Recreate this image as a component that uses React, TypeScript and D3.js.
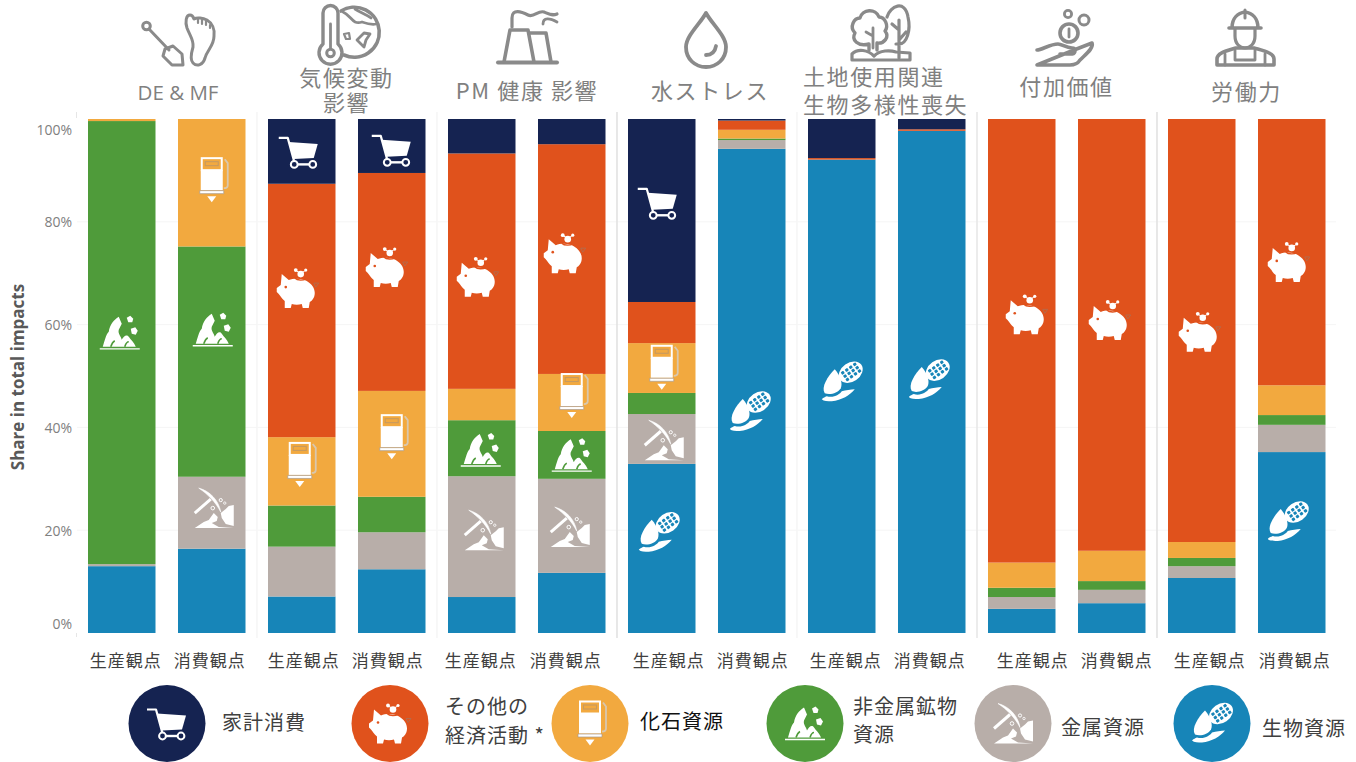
import React from "react";
import * as d3 from "d3";

// Stacked shares by perspective, bottom segment first.
const categories = [
  "DE-prod", "DE-cons", "GHG-prod", "GHG-cons", "PM-prod", "PM-cons", "Water-prod",
  "Water-cons", "Land-prod", "Land-cons", "VA-prod", "VA-cons", "Labor-prod", "Labor-cons",
];
const biomass = [13.0, 16.4, 7.1, 12.4, 7.0, 11.7, 32.9, 94.2, 92.1, 97.7, 4.7, 5.8, 10.7, 35.2];
const metals = [0.4, 14.0, 9.7, 7.2, 23.5, 18.3, 9.7, 1.7, 0, 0, 2.3, 2.6, 2.3, 5.3];
const minerals = [86.2, 44.8, 8.0, 6.9, 10.9, 9.3, 4.1, 0.3, 0, 0, 1.8, 1.7, 1.6, 1.9];
const fossil = [0.4, 24.8, 13.3, 20.6, 6.1, 11.1, 9.7, 1.7, 0, 0, 4.9, 5.9, 3.1, 5.8];
const otherEconomy = [0, 0, 49.3, 42.4, 45.8, 44.7, 8.0, 1.8, 0.3, 0.3, 86.3, 84.0, 82.3, 51.8];
const households = [0, 0, 12.6, 10.5, 6.7, 4.9, 35.6, 0.3, 7.6, 2.0, 0, 0, 0, 0];

const seriesKeys = ["biomass", "metals", "minerals", "fossil", "other", "households"];
const seriesValues: Record<string, number[]> = {
  biomass, metals, minerals, fossil, other: otherEconomy, households,
};
const seriesColors = ["#1785b8", "#b8aea9", "#4f9b3a", "#f2a93f", "#e0521c", "#152351"];

const tickValues = [0, 20, 40, 60, 80, 100];
const perspectiveLabels = ["生産観点", "消費観点"];

const WIDTH = 1356;
const HEIGHT = 762;
const GREY = "#808080";
const JP = "'Noto Sans CJK JP', 'Noto Sans', sans-serif";

const x = d3
  .scaleBand<string>()
  .domain(categories)
  .range([76.75, 1336.75])
  .paddingInner(0.25)
  .paddingOuter(0.125);
const y = d3.scaleLinear().domain([0, 100]).range([633, 119]);

const rows = categories.map((c, i) => {
  const row: Record<string, number | string> = { c };
  seriesKeys.forEach((k) => (row[k] = seriesValues[k][i]));
  return row;
});
const stacked = d3.stack<any>().keys(seriesKeys)(rows);

type Kind = "cart" | "pig" | "pump" | "rock" | "pick" | "corn";

// White pictograms; `bg` is the colour showing through their cut-outs.
function Glyph({ kind, bg }: { kind: Kind; bg: string }) {
  if (kind === "cart") {
    return (
      <g>
        <path d="M-20,-14 H-11 L-5,8 V12" fill="none" stroke="#fff" strokeWidth={2.2} strokeLinejoin="round" />
        <path d="M-10,-10 L19,-8 L15,6 L-5,7 Z" fill="#fff" />
        <path d="M-4,12.5 H14" stroke="#fff" strokeWidth={2.4} />
        <circle cx={-4.5} cy={12.5} r={3.4} fill={bg} stroke="#fff" strokeWidth={2} />
        <circle cx={14} cy={12.5} r={3.4} fill={bg} stroke="#fff" strokeWidth={2} />
      </g>
    );
  }
  if (kind === "pig") {
    return (
      <g>
        <path
          d="M-16,-14 L-9,-8 C-4,-10 4,-10 9,-7 C14,-4 17,0 17,5 C17,10 14,13 12,14 L11,20 H5 L4,16 C1,17 -3,17 -6,16 L-7,20 H-13 L-13,13 C-16,11 -17,8 -19,6 L-21,4 L-21,0 L-17,-3 Z"
          fill="#fff"
        />
        <circle cx={-12} cy={-1} r={1.3} fill={bg} />
        <path d="M-3,-10 C0,-7 6,-8 8,-9" fill="none" stroke={bg} strokeWidth={1.4} />
        <circle cx={3} cy={-14} r={3.3} fill="#fff" />
        <circle cx={-2} cy={-18} r={1.9} fill="#fff" />
        <circle cx={8} cy={-18} r={1.6} fill="#fff" />
        <path d="M1,-16 L-1,-17 M5,-16 L7,-17" stroke="#fff" strokeWidth={1} />
        <path d="M16,-5 L21,-5 L18,-1 Z" fill="none" stroke="#b66a4a" strokeWidth={1} />
      </g>
    );
  }
  if (kind === "pump") {
    return (
      <g>
        <rect x={-10} y={-22} width={20} height={12} fill="none" stroke="#fff" strokeWidth={2} />
        <rect x={-6.5} y={-18.5} width={13} height={4} fill="none" stroke="#c79a5f" strokeWidth={1.1} />
        <rect x={-11} y={-10} width={22} height={20} fill="#fff" />
        <path d="M-12,10.5 H12 V13.5 H-12 Z" fill="#fff" stroke="#a89a8c" strokeWidth={0.7} />
        <path d="M-4.5,16 H4.5 L0,22 Z" fill="#fff" />
        <path d="M13,-21 L16,-17 V5 Q16,8 12,8" fill="none" stroke="#d9c7ad" strokeWidth={1.8} />
      </g>
    );
  }
  if (kind === "rock") {
    return (
      <g>
        <path
          d="M-17,14 C-15,8 -14,2 -11,-1 C-10,-8 -6,-13 -1,-16 L2,-9 L-1,-3 C-2,1 1,3 2,7 C4,3 7,1 9,4 C11,7 14,9 16,14 Z"
          fill="#fff"
        />
        <path d="M-20,16 H20" stroke="#fff" strokeWidth={1.3} />
        <path d="M-9,14 C-8,11 -7,9 -5,8 M5,14 C6,11 7,9 9,9" fill="none" stroke={bg} strokeWidth={1.6} />
        <path d="M7,-15 L10.5,-17 L13.5,-14 L12.5,-10.5 L8.5,-10.5 Z" fill="#fff" />
        <path d="M11,-4 L15.5,-5.5 L18,-2 L16,2 L12,1 Z" fill="#fff" />
      </g>
    );
  }
  if (kind === "pick") {
    return (
      <g>
        <path d="M-15,-20 C-4,-17 5,-8 7,4 C2,-6 -6,-14 -15,-20 Z" fill="#fff" stroke="#fff" strokeWidth={0.6} />
        <path d="M-19,5 L-3,-9" stroke="#fff" strokeWidth={3} />
        <path d="M-19,20 L-10,14 L-5,12 L0,5 L4,9 L3,13 L-2,15 L5,19 L20,20 Z" fill="#fff" />
        <path d="M8,10 L7,5 L12,1 L15,-2 L20,-3 V18 L12,16 Z" fill="#fff" />
        <circle cx={-1} cy={0} r={1.8} fill="none" stroke="#fff" strokeWidth={1} />
        <circle cx={7} cy={-8} r={1.6} fill="none" stroke="#fff" strokeWidth={1} />
        <circle cx={11} cy={-5} r={1.2} fill="none" stroke="#fff" strokeWidth={0.8} />
      </g>
    );
  }
  return (
    <g>
      <path d="M-7,-13 C-1,-6 1,1 -1,6 C-4,11 -12,13 -17,11 C-21,5 -14,-6 -7,-13 Z" fill="#fff" />
      <path d="M-20,17 C-18,15 -17,15 -15,14 C-8,16 -2,12 0,9 C4,8 9,7 13,7 C8,13 0,18 -10,19 C-14,19 -18,19 -20,17 Z" fill="#fff" />
      <g transform="translate(9,-10) rotate(-35)">
        <ellipse cx={0} cy={0} rx={13} ry={9.5} fill="#fff" />
        <g fill={bg}>
          {[-8.5, -3.6, 1.3, 6.2].map((px) =>
            [-5.6, -1.5, 2.6].map((py) => (
              <rect key={`${px}:${py}`} x={px} y={py} width={3.2} height={3} rx={0.8} />
            )),
          )}
        </g>
      </g>
    </g>
  );
}

// Pictogram anchors: column, glyph, share level on the axis, sideways nudge.
const glyphPlacements: [number, Kind, number, number][] = [
  [0, "rock", 58.4, -2],
  [1, "pump", 88.1, 0],
  [1, "rock", 59, 1],
  [1, "pick", 24.3, 2],
  [2, "cart", 93.6, -3],
  [2, "pig", 67.1, -4],
  [2, "pump", 32.7, -2],
  [3, "cart", 94, 0],
  [3, "pig", 71.2, -5],
  [3, "pump", 38.1, 0],
  [4, "pig", 69.3, -4],
  [4, "rock", 35.6, -1],
  [4, "pick", 20, 2],
  [5, "pig", 73.9, -7],
  [5, "pump", 46.1, 0],
  [5, "rock", 34.6, 0],
  [5, "pick", 20.6, -2],
  [6, "cart", 83.7, -4],
  [6, "pump", 51.6, 0],
  [6, "pick", 37.5, 2],
  [6, "corn", 19.5, -3],
  [7, "corn", 43, -2],
  [8, "corn", 48.8, 0],
  [9, "corn", 49.2, -3],
  [10, "pig", 62, 5],
  [11, "pig", 60.9, -2],
  [12, "pig", 58.6, -2],
  [13, "pig", 72.2, -3],
  [13, "corn", 21.6, -4],
];

const glyphBg: Record<Kind, string> = {
  cart: "#152351",
  pig: "#e0521c",
  pump: "#f2a93f",
  rock: "#4f9b3a",
  pick: "#b8aea9",
  corn: "#1785b8",
};

const legendItems: { kind: Kind; cx: number; lines: string[]; tx: number; ty: number[]; fill: string }[] = [
  { kind: "cart", cx: 167, lines: ["家計消費"], tx: 222, ty: [721], fill: "#404040" },
  { kind: "pig", cx: 390, lines: ["その他の", "経済活動 *"], tx: 445, ty: [705, 734], fill: "#404040" },
  { kind: "pump", cx: 590, lines: ["化石資源"], tx: 640, ty: [720], fill: "#111" },
  { kind: "rock", cx: 805, lines: ["非金属鉱物", "資源"], tx: 853, ty: [705, 733], fill: "#404040" },
  { kind: "pick", cx: 1013, lines: ["金属資源"], tx: 1061, ty: [726], fill: "#404040" },
  { kind: "corn", cx: 1212, lines: ["生物資源"], tx: 1262, ty: [727], fill: "#404040" },
];

const groupTitles: { text: string; x: number; y: number; anchor?: string }[] = [
  { text: "気候変動", x: 346.5, y: 76 },
  { text: "影響", x: 346.5, y: 100.5 },
  { text: "PM 健康 影響", x: 527, y: 89 },
  { text: "水ストレス", x: 710, y: 89 },
  { text: "土地使用関連", x: 803, y: 74.5, anchor: "start" },
  { text: "生物多様性喪失", x: 803, y: 103, anchor: "start" },
  { text: "付加価値", x: 1066.5, y: 84.5 },
  { text: "労働力", x: 1246.5, y: 90 },
];

const perspectiveNudge = [4, -2, 2, -4, -1, -6, 7, 1, 4, -2, 11, 5, 8, 3];
const separators: [number, string][] = [
  [257, "#f6f6f6"],
  [437, "#f6f6f6"],
  [617, "#e2e2e2"],
  [797, "#f6f6f6"],
  [977, "#e8e8e8"],
  [1157, "#e2e2e2"],
];

// Grey outline pictograms above each indicator group.
function GroupIcons() {
  return (
    <g fill="none" stroke="#8a8a8a" strokeWidth={3} strokeLinejoin="round" strokeLinecap="round">
      {/* shovel and footprint */}
      <circle cx={146.5} cy={26} r={3.8} />
      <path d="M149,29 L169,50" />
      <path d="M165,49 L173,46 L182,54 L183,65 L172,65 L163,56 Z" />
      <path d="M190,15 C186,15 185,22 187,28 C190,36 194,40 193,47 C191,54 190,60 193,63 C197,67 203,65 205,58 C207,50 214,46 214,36 C215,29 212,23 207,20 C203,18 197,17 194,19 C193,16 192,15 190,15 Z" />
      <path d="M198,19 V23 M202,20 V24 M206,21 V25 M210,25 V28" strokeWidth={2.2} />

      {/* thermometer and globe */}
      <path d="M323,44 V13 a7.5,7.5 0 0 1 15,0 V44 a11.5,11.5 0 1 1 -15,0 Z" strokeWidth={3.4} />
      <circle cx={330.5} cy={53} r={3.8} />
      <path d="M330.5,24 V48" strokeWidth={2.8} />
      <path d="M341,11 A25,25 0 1 1 344,55" strokeWidth={3.6} />
      <path d="M343,12 C352,16 352,25 362,22 C368,24 372,25 376,24 M355,9 C361,13 366,14 371,18" strokeWidth={2.8} />
      <path d="M357,40 L364,33 L370,34 L366,40 L364,47 Z" strokeWidth={2.8} />
      <path d="M344,34 L349,33 L350,39 L346,39 Z" strokeWidth={2.2} />

      {/* power plant */}
      <path d="M498,62.5 H557" strokeWidth={4} />
      <path d="M504,62 L510,30 H528 L534,62" strokeWidth={3.6} />
      <path d="M530,33 H546 L551,62" strokeWidth={3.6} />
      <path d="M512,27 V18 C512,8 522,12 528,15 C534,18 538,10 544,12 C549,14 552,16 557,14" strokeWidth={3.2} />
      <path d="M543,24 C543,17 550,18 557,22" strokeWidth={2.8} />

      {/* water drop */}
      <path d="M706,13 C700,24 686,36 686,47 C686,59 695,67 706,67 C717,67 726,59 726,47 C726,36 712,24 706,13 Z" strokeWidth={3.8} />
      <path d="M706,55 C711,55 715,52 716,46" strokeWidth={3.8} />

      {/* trees on a mound */}
      <path d="M869,50 V44 C858,47 851,40 855,33 C849,27 854,18 860,18 C862,9 876,8 879,17 C885,17 889,26 885,31 C890,37 884,44 877,43 V50" strokeWidth={3.4} />
      <path d="M873,28 V48 M873,36 L866,32" strokeWidth={2.8} />
      <path d="M887,17 C890,6 905,-1 908,17 C911,30 907,44 899,44 H896 M899,20 V58 M899,30 L892,24 M899,40 L906,32" strokeWidth={3.2} />
      <path d="M852,60 V54 C858,48 868,50 874,56 C880,50 890,50 896,52 L910,53 V60 H852" strokeWidth={3.2} />

      {/* coins over an open hand */}
      <circle cx={1069} cy={33} r={9} strokeWidth={3.6} />
      <path d="M1069,29 V37" strokeWidth={2.8} />
      <circle cx={1068} cy={14} r={3.6} strokeWidth={2.8} />
      <circle cx={1084} cy={20} r={5} strokeWidth={3} />
      <path d="M1037,50 C1042,50 1050,44 1058,44 C1062,44 1066,48 1072,48 C1076,48 1076,53 1072,54 H1060 M1074,50 L1092,43 C1094,48 1086,54 1080,60 C1078,63 1076,65 1070,65 H1037 Z" strokeWidth={3.6} />

      {/* worker with helmet */}
      <path d="M1229,28 H1261 M1232,28 C1232,18 1238,13 1245,12 C1252,13 1258,18 1258,28" strokeWidth={3.6} />
      <path d="M1245,10 V18" strokeWidth={3} />
      <path d="M1235,29 V36 C1235,52 1255,52 1255,36 V29" strokeWidth={3.2} />
      <path d="M1217,65 V59 C1217,53 1226,51 1236,48 H1254 C1264,51 1274,53 1274,59 V65 Z" strokeWidth={3.6} />
      <path d="M1235,50 V60 H1255 V50 M1225,54 V65 M1265,54 V65" strokeWidth={2.8} />
    </g>
  );
}

export default function App() {
  const bw = x.bandwidth();
  return (
    <svg
      width={WIDTH}
      height={HEIGHT}
      viewBox={`0 0 ${WIDTH} ${HEIGHT}`}
      style={{ position: "absolute", left: 0, top: 0, display: "block", background: "#fff" }}
    >
      {/* grid and group separators */}
      {tickValues.slice(1, 5).map((t) => (
        <line key={t} x1={77} x2={1336} y1={y(t)} y2={y(t)} stroke="#f5f5f5" />
      ))}
      <line x1={76.5} x2={76.5} y1={112} y2={118} stroke="#e6e6e6" />
      <line x1={76.5} x2={76.5} y1={633} y2={637} stroke="#e6e6e6" />
      {separators.map(([sx, color]) => (
        <line key={sx} x1={sx} x2={sx} y1={112} y2={638} stroke={color} strokeWidth={1.6} />
      ))}

      {/* stacked bars */}
      {stacked.map((layer, si) => (
        <g key={layer.key} fill={seriesColors[si]}>
          {layer.map((d, i) =>
            d[1] > d[0] ? (
              <rect key={categories[i]} x={x(categories[i])} y={y(d[1])} width={bw} height={y(d[0]) - y(d[1])} />
            ) : null,
          )}
        </g>
      ))}

      {/* pictograms on the bars */}
      {glyphPlacements.map(([col, kind, share, nudge], i) => (
        <g key={i} transform={`translate(${(x(categories[col]) as number) + bw / 2 + nudge},${y(share)})`}>
          <Glyph kind={kind} bg={glyphBg[kind]} />
        </g>
      ))}

      {/* value axis */}
      {tickValues.map((t) => (
        <text
          key={t}
          x={72}
          y={Math.min(Math.max(y(t), 129), 623)}
          textAnchor="end"
          dominantBaseline="central"
          fontFamily="'Open Sans', sans-serif"
          fontSize={14}
          fontWeight={500}
          fill={GREY}
        >
          {d3.format("d")(t)}%
        </text>
      ))}
      <text
        transform="translate(17,377) rotate(-90)"
        textAnchor="middle"
        dominantBaseline="central"
        fontFamily="'Open Sans', sans-serif"
        fontSize={17}
        fontWeight={700}
        fill="#595959"
      >
        Share in total impacts
      </text>

      {/* perspective labels under the bars */}
      {categories.map((c, i) => (
        <text
          key={c}
          x={(x(c) as number) + bw / 2 + perspectiveNudge[i]}
          y={659}
          textAnchor="middle"
          dominantBaseline="central"
          fontFamily={JP}
          fontSize={17}
          letterSpacing={1}
          fill="#404040"
        >
          {perspectiveLabels[i % 2]}
        </text>
      ))}

      {/* group titles and pictograms */}
      <GroupIcons />
      <text
        x={178}
        y={92}
        textAnchor="middle"
        dominantBaseline="central"
        fontFamily="'Open Sans', sans-serif"
        fontSize={20.5}
        fill={GREY}
      >
        DE &amp; MF
      </text>
      {groupTitles.map((t) => (
        <text
          key={t.text}
          x={t.x}
          y={t.y}
          textAnchor={t.anchor ?? "middle"}
          dominantBaseline="central"
          fontFamily={JP}
          fontSize={22}
          letterSpacing={1.6}
          fill={GREY}
        >
          {t.text}
        </text>
      ))}

      {/* legend */}
      {legendItems.map((item) => (
        <g key={item.kind}>
          <circle cx={item.cx} cy={723.5} r={38.5} fill={glyphBg[item.kind]} />
          <g transform={`translate(${item.cx},723.5)`}>
            <Glyph kind={item.kind} bg={glyphBg[item.kind]} />
          </g>
          {item.lines.map((line, i) => (
            <text
              key={line}
              x={item.tx}
              y={item.ty[i]}
              dominantBaseline="central"
              fontFamily={JP}
              fontSize={20}
              letterSpacing={1}
              fill={item.fill}
            >
              {line}
            </text>
          ))}
        </g>
      ))}
    </svg>
  );
}
